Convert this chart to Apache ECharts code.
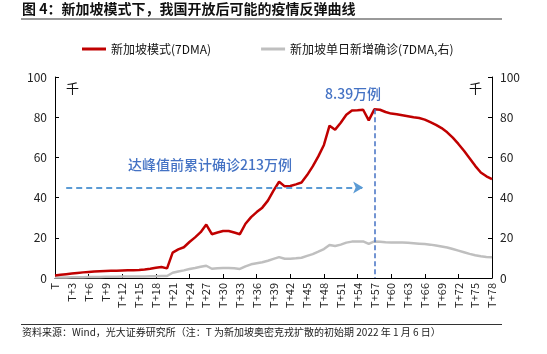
<!DOCTYPE html>
<html>
<head>
<meta charset="utf-8">
<script src="https://cdn.jsdelivr.net/npm/echarts@6/dist/echarts.min.js"></script>
<style>
  html, body { margin: 0; padding: 0; background: #fff; }
  #chart { width: 547px; height: 354px; }
</style>
</head>
<body>
<div id="chart"></div>
<script>
const days = Array.from({ length: 79 }, (_, i) => i === 0 ? 'T' : 'T+' + i)

// 新加坡模式(7DMA), 千
const modelValues = [
  1.3, 1.6, 1.9, 2.2, 2.5, 2.8, 3.0, 3.2, 3.4, 3.5,
  3.6, 3.6, 3.7, 3.8, 3.9, 4.0, 4.2, 4.6, 5.1, 5.5,
  4.8, 12.6, 14.2, 15.3, 17.9, 20.2, 22.8, 26.6, 21.8, 22.6,
  23.4, 23.4, 22.6, 21.8, 27.0, 30.3, 32.8, 35.0, 38.5, 43.5,
  47.9, 45.6, 45.8, 46.6, 47.5, 51.2, 55.5, 60.5, 66.2, 75.8,
  73.8, 77.2, 81.2, 83.3, 83.4, 83.7, 78.4, 83.9, 83.7, 82.6,
  81.8, 81.5, 81.0, 80.5, 80.0, 79.6, 78.8, 77.5, 76.2, 74.6,
  72.5, 69.8, 66.7, 63.3, 59.6, 55.8, 52.5, 50.6, 49.2
]

// 新加坡单日新增确诊(7DMA,右), 千
const sgValues = [
  0.3, 0.3, 0.3, 0.4, 0.4, 0.4, 0.5, 0.5, 0.5, 0.6,
  0.6, 0.6, 0.7, 0.7, 0.7, 0.8, 0.8, 0.9, 0.9, 1.0,
  1.0, 2.6, 3.2, 3.8, 4.5, 5.0, 5.6, 6.1, 4.6, 4.8,
  5.0, 5.0, 4.8, 4.5, 5.8, 6.8, 7.3, 7.8, 8.6, 9.5,
  10.4, 9.6, 9.6, 9.8, 10.1, 11.0, 11.9, 13.1, 14.4, 16.4,
  15.9, 16.6, 17.6, 18.1, 18.2, 18.2, 17.0, 18.2, 18.0, 17.8,
  17.7, 17.6, 17.6, 17.5, 17.3, 17.1, 16.9, 16.6, 16.2, 15.7,
  15.2, 14.4, 13.6, 12.8, 12.0, 11.3, 10.8, 10.5, 10.3
]

const peakDay = 'T+57'
const peakValue = 83.9
const cumLevel = 45

const font = '"Noto Sans CJK SC", "Noto Sans", sans-serif'
const axisColor = '#000'

const yAxisBase = {
  type: 'value',
  min: 0,
  max: 100,
  interval: 20,
  splitLine: { show: false },
  axisLine: { show: true, lineStyle: { color: axisColor, width: 1 } },
  axisTick: { show: true, inside: true, length: 4, lineStyle: { color: axisColor } },
  axisLabel: { fontSize: 12, color: '#222', fontFamily: font, margin: 8 },
}

const option = {
  animation: false,
  textStyle: { fontFamily: font },
  grid: { left: 55, right: 55, top: 77, bottom: 76 },
  legend: {
    top: 38,
    left: 77,
    itemGap: 50,
    itemWidth: 24,
    itemHeight: 3,
    textStyle: { fontSize: 12, color: '#111', fontFamily: font },
    data: [
      { name: '新加坡模式(7DMA)', icon: 'rect' },
      { name: '新加坡单日新增确诊(7DMA,右)', icon: 'rect' }
    ]
  },
  xAxis: {
    type: 'category',
    data: days,
    boundaryGap: false,
    axisLine: { lineStyle: { color: axisColor, width: 1 } },
    axisTick: { show: true, inside: true, length: 4, interval: 5, lineStyle: { color: axisColor } },
    axisLabel: { interval: 2, rotate: 90, fontSize: 11, color: '#222', fontFamily: font, margin: 5 },
  },
  yAxis: [
    { ...yAxisBase, position: 'left' },
    { ...yAxisBase, position: 'right' }
  ],
  series: [
    {
      name: '新加坡单日新增确诊(7DMA,右)',
      type: 'line',
      yAxisIndex: 1,
      data: sgValues,
      symbol: 'none',
      lineStyle: { color: '#BFBFBF', width: 2.5 },
      itemStyle: { color: '#BFBFBF' },
    },
    {
      name: '新加坡模式(7DMA)',
      type: 'line',
      data: modelValues,
      symbol: 'none',
      lineStyle: { color: '#C00000', width: 2.5 },
      itemStyle: { color: '#C00000' },
      z: 3,
      markLine: {
        silent: true,
        animation: false,
        label: { show: false },
        data: [
          [
            { coord: [peakDay, peakValue], symbol: 'none', lineStyle: { color: '#4472C4', type: [5, 3], width: 1.5 } },
            { coord: [peakDay, 0], symbol: 'none' }
          ],
          [
            { coord: [2, cumLevel], symbol: 'none', lineStyle: { color: '#5B9BD5', type: [6, 4], width: 2 } },
            { coord: [55, cumLevel], symbol: 'arrow', symbolSize: [9, 10] }
          ]
        ]
      }
    }
  ],
  graphic: [
    { type: 'text', left: 22, top: 2, style: { text: '图 4：新加坡模式下，我国开放后可能的疫情反弹曲线', font: 'bold 14px ' + font, fill: '#111' } },
    { type: 'rect', shape: { x: 21, y: 18, width: 481, height: 2 }, style: { fill: '#999' } },
    { type: 'text', left: 66, top: 82, style: { text: '千', font: '13px ' + font, fill: '#111' } },
    { type: 'text', left: 469, top: 82, style: { text: '千', font: '13px ' + font, fill: '#111' } },
    { type: 'text', left: 325, top: 87, style: { text: '8.39万例', font: '500 14px ' + font, fill: '#4472C4' } },
    { type: 'text', left: 128, top: 158, style: { text: '达峰值前累计确诊213万例', font: '500 14px ' + font, fill: '#4472C4' } },
    { type: 'rect', shape: { x: 21, y: 324, width: 481, height: 1 }, style: { fill: '#333' } },
    { type: 'text', left: 22, top: 327, style: { text: '资料来源：Wind，光大证券研究所（注：T 为新加坡奥密克戎扩散的初始期 2022 年 1 月 6 日）', font: '10px ' + font, fill: '#222' } },
  ]
}

const chart = echarts.init(document.getElementById('chart'), null, { renderer: 'canvas' })
chart.setOption(option)
</script>
</body>
</html>
